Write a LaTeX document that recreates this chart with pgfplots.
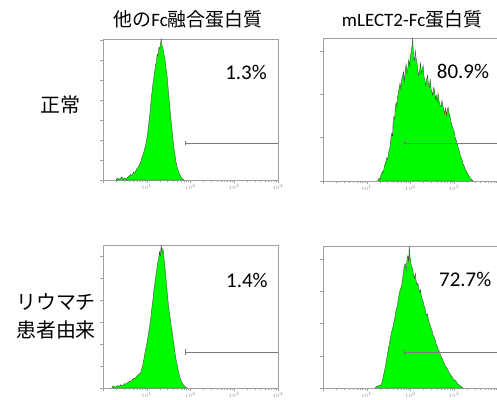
\documentclass[border=0pt]{standalone}
\usepackage{fontspec}
\setmainfont{Carlito}
\newfontfamily\cjk{Noto Sans CJK JP}
\usepackage{pgfplots}
\pgfplotsset{compat=1.18}
\definecolor{histgreen}{RGB}{0,250,0}
\definecolor{framegray}{RGB}{160,160,160}
\definecolor{gategray}{RGB}{120,120,120}
\pgfplotsset{panel/.style={
  scale only axis, width=175bp, xmin=0, xmax=4, ymin=0,
  axis line style={draw=framegray, line width=0.6pt},
  tick style={draw=framegray, line width=0.4pt},
  tick align=outside, xtick pos=bottom, ytick pos=left,
  major tick length=3bp, minor tick length=2bp,
  xtick={0,1,2,3,4}, xticklabels={,$10^1$,$10^2$,$10^3$,$10^4$},
  minor xtick={0.301,0.477,0.602,0.699,0.778,0.845,0.903,0.954,
    1.301,1.477,1.602,1.699,1.778,1.845,1.903,1.954,
    2.301,2.477,2.602,2.699,2.778,2.845,2.903,2.954,
    3.301,3.477,3.602,3.699,3.778,3.845,3.903,3.954},
  x tick label style={font=\fontsize{3}{3}\selectfont, text=black!45, inner sep=1bp},
  yticklabels={},
  clip=false,
  anchor=south west},
  rightpanel/.style={xtick={0,1,2,3}, xticklabels={,$10^1$,$10^2$,$10^3$}},
  hist/.style={fill=histgreen, draw=black!75, line width=0.35pt, sharp plot},
  gate/.style={draw=gategray, line width=0.6pt, sharp plot}}
\begin{document}
\begin{tikzpicture}[x=1bp,y=1bp]
\useasboundingbox (0,0) rectangle (497,399);
% titles
\node[font=\fontsize{19}{20}\selectfont] at (188,380) {{\cjk 他の}Fc{\cjk 融合蛋白質}};
\node[font=\fontsize{19}{20}\selectfont] at (412,380) {mLECT2-Fc{\cjk 蛋白質}};
% row labels
\node[font=\cjk\fontsize{20}{21}\selectfont] at (60,294) {正常};
\node[font=\cjk\fontsize{20}{21}\selectfont] at (56,97) {リウマチ};
\node[font=\cjk\fontsize{20}{21}\selectfont] at (56,69) {患者由来};

% Panel 1
\begin{axis}[panel, at={(103bp,219bp)}, height=141bp, ymax=70.5, ytick={0,10,...,70}]
\addplot[hist] coordinates {
(0.30,0)(0.33,1)(0.36,0.3)(0.40,0.8)(0.43,1.6)(0.46,0.4)(0.50,0.9)(0.53,0.3)(0.56,1.2)
(0.60,2)(0.63,2.8)(0.66,2.2)(0.70,4)(0.73,3.5)(0.76,5.2)(0.80,6.3)(0.83,7.6)(0.86,8.8)
(0.89,11.5)(0.92,12.8)(0.95,15.5)(0.98,18)(1.00,20.5)(1.03,25)(1.06,31)(1.08,35)
(1.10,40)(1.12,44)(1.14,48)(1.16,51)(1.18,54)(1.20,57.5)(1.22,59)(1.24,63)(1.26,62)
(1.28,66.5)(1.30,65.5)(1.32,69)(1.33,70.5)(1.35,67)(1.37,66)(1.39,63)(1.41,61.5)
(1.43,58)(1.45,54)(1.47,51)(1.50,43)(1.52,38)(1.55,31)(1.57,27)(1.60,20)(1.62,16)
(1.65,12)(1.67,9)(1.70,6)(1.73,4)(1.76,2.5)(1.79,1.2)(1.82,0.5)(1.85,0)
} \closedcycle;
\addplot[gate] coordinates {(1.87,18.5)(4,18.5)};
\addplot[gate] coordinates {(1.87,17.3)(1.87,19.7)};
\node[font=\fontsize{21}{22}\selectfont] at (axis cs:3.27,54) {1.3\%};
\end{axis}

% Panel 2
\begin{axis}[panel, rightpanel, at={(323bp,218bp)}, height=143bp, ymax=165, ytick={0,50,100,150}]
\addplot[hist] coordinates {
(1.25,0)(1.28,3)(1.30,2)(1.33,8)(1.36,11)(1.38,10)(1.40,17)(1.43,21)(1.46,27)(1.48,25)(1.50,33)(1.53,39)
(1.55,48)(1.57,55)(1.59,52)(1.60,66)(1.62,74)(1.64,72)(1.65,84)(1.67,90)(1.69,86)(1.70,96)(1.72,101)(1.74,107)
(1.76,113)(1.78,106)(1.80,118)(1.82,121)(1.84,126)(1.86,114)(1.88,128)(1.90,135)
(1.92,124)(1.94,131)(1.96,140)(1.98,133)(2.00,145)(2.02,150)(2.04,158)(2.05,165)
(2.07,142)(2.09,139)(2.11,150)(2.13,141)(2.15,136)(2.17,127)(2.19,122)(2.21,128)
(2.23,136)(2.25,124)(2.27,129)(2.29,133)(2.31,120)(2.33,116)(2.35,110)(2.37,118)
(2.39,122)(2.41,111)(2.43,108)(2.45,118)(2.47,106)(2.49,103)(2.51,99)(2.53,108)
(2.55,104)(2.57,94)(2.59,99)(2.61,91)(2.63,101)(2.65,93)(2.67,88)(2.70,86)(2.72,93)
(2.74,87)(2.76,82)(2.78,78)(2.80,84)(2.82,76)(2.84,82)(2.86,85)(2.88,78)(2.90,76)
(2.92,69)(2.94,66)(2.96,62)(2.98,59)(3.00,57)(3.02,50)(3.04,48)(3.06,44)(3.08,41)
(3.10,36)(3.12,34)(3.14,29)(3.16,27)(3.18,24)(3.20,20)(3.22,18)(3.24,15)(3.26,13)
(3.29,10)(3.31,8)(3.33,6)(3.36,4)(3.38,2.5)(3.40,1.5)(3.43,0)
} \closedcycle;
\addplot[gate] coordinates {(1.85,44)(4.05,44)};
\addplot[gate] coordinates {(1.85,41.5)(1.85,46.5)};
\node[font=\fontsize{21}{22}\selectfont] at (axis cs:3.2,126) {80.9\%};
\end{axis}

% Panel 3
\begin{axis}[panel, at={(103bp,11bp)}, height=143bp, ymax=65, ytick={0,10,...,60}]
\addplot[hist] coordinates {
(0.20,0)(0.23,1)(0.27,0.4)(0.30,0.6)(0.33,1.1)(0.37,0.7)(0.40,1.5)(0.43,1)(0.47,1.4)
(0.50,2)(0.53,1.7)(0.56,2.4)(0.60,3)(0.63,2.7)(0.66,3.6)(0.70,4.5)(0.73,4.2)(0.76,5.1)
(0.80,6)(0.83,6.3)(0.86,7)(0.89,9)(0.92,11.5)(0.95,15)(0.98,18)(1.00,20)(1.03,23.5)
(1.05,26)(1.08,30)(1.10,33)(1.12,37)(1.14,40)(1.16,44)(1.18,47)(1.20,50)(1.23,54)
(1.25,57)(1.27,58.5)(1.29,62)(1.31,60)(1.33,65)(1.35,61.5)(1.37,63.5)(1.39,60)
(1.41,56)(1.43,52)(1.46,45)(1.48,41)(1.50,37)(1.52,34)(1.54,31)(1.56,28)(1.58,26)
(1.60,22.5)(1.62,20)(1.64,17)(1.66,14)(1.68,12)(1.70,10)(1.73,7)(1.75,5.5)(1.77,4)
(1.80,2.7)(1.83,1.6)(1.86,0.9)(1.89,0.4)(1.92,0)
} \closedcycle;
\addplot[gate] coordinates {(1.87,16.4)(4,16.4)};
\addplot[gate] coordinates {(1.87,15.2)(1.87,17.6)};
\node[font=\fontsize{21}{22}\selectfont] at (axis cs:3.29,49) {1.4\%};
\end{axis}

% Panel 4
\begin{axis}[panel, rightpanel, at={(323bp,11bp)}, height=142bp, ymax=88, ytick={0,20,...,80}]
\addplot[hist] coordinates {
(1.19,0)(1.22,1)(1.25,0.8)(1.28,1.8)(1.31,1.5)(1.34,2.6)(1.37,6)(1.40,10)(1.43,14)
(1.46,19)(1.48,22)(1.50,25)(1.52,28)(1.54,31)(1.56,34)(1.58,36)(1.60,38)(1.62,41)
(1.64,43)(1.66,47)(1.68,49)(1.70,51)(1.72,55)(1.74,58)(1.76,60.5)(1.78,62)(1.80,64)
(1.82,68)(1.84,72)(1.86,76)(1.88,77)(1.90,73)(1.92,80)(1.94,82)(1.96,78)(1.97,88)
(1.99,81)(2.01,77)(2.03,75)(2.05,73.5)(2.07,70)(2.09,68)(2.11,71)(2.13,66)(2.15,64)
(2.17,65)(2.19,61)(2.21,59.5)(2.23,61)(2.25,56)(2.27,55)(2.29,53.5)(2.31,51)
(2.33,50)(2.35,46)(2.37,45)(2.39,46)(2.41,42)(2.43,40.5)(2.45,39)(2.47,37)(2.49,36)
(2.51,33)(2.53,32)(2.55,31)(2.57,29)(2.59,27)(2.61,26)(2.63,24)(2.65,23)(2.67,22)
(2.69,20)(2.71,19)(2.73,18)(2.75,16.5)(2.77,15.5)(2.79,14)(2.81,13)(2.84,12)(2.86,11)
(2.88,9.5)(2.90,9)(2.93,7.5)(2.95,7)(2.98,5.5)(3.00,5)(3.03,4.5)(3.06,3.5)(3.08,2.5)
(3.10,2)(3.13,1.5)(3.16,0.8)(3.20,0)
} \closedcycle;
\addplot[gate] coordinates {(1.85,22)(4.05,22)};
\addplot[gate] coordinates {(1.85,20.5)(1.85,23.5)};
\node[font=\fontsize{21}{22}\selectfont] at (axis cs:3.25,67) {72.7\%};
\end{axis}
\end{tikzpicture}
\end{document}
